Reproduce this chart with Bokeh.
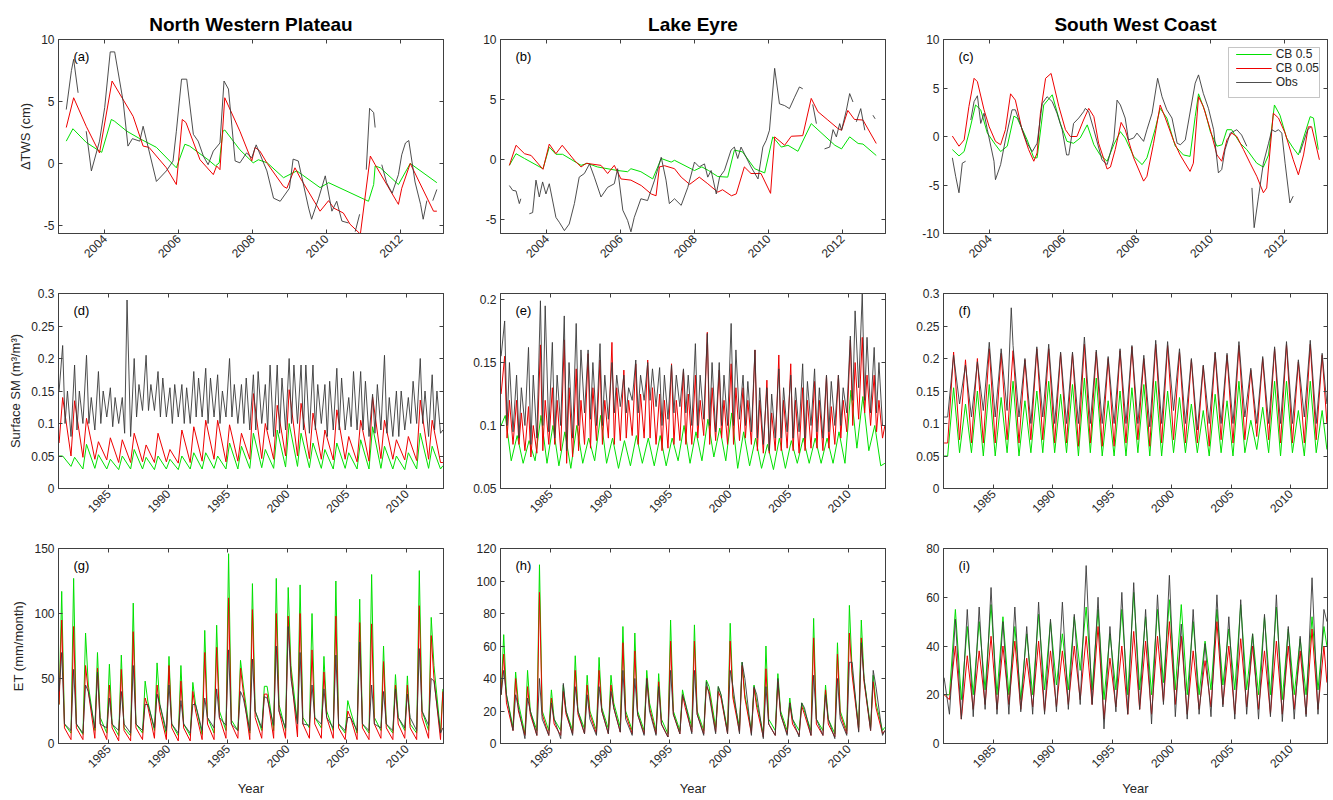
import math
from bokeh.plotting import figure
from bokeh.layouts import column, row
from bokeh.models import (Range1d, FixedTicker, LinearAxis, Label, CustomJSTickFormatter,
                          Legend, LegendItem, BoxAnnotation)
from bokeh.embed import file_html
from bokeh.resources import INLINE

nan = float("nan")
years = list(range(1981, 2013))

col_titles = ["North Western Plateau", "Lake Eyre", "South West Coast"]
row_ylabels = ["\u0394TWS (cm)", "Surface SM (m\u00b3/m\u00b3)", "ET (mm/month)"]
panel_tags = [["(a)", "(b)", "(c)"], ["(d)", "(e)", "(f)"], ["(g)", "(h)", "(i)"]]
series_names = ["CB 0.5", "CB 0.05", "Obs"]
tws_xticks = [2004, 2006, 2008, 2010, 2012]
long_xticks = [1985, 1990, 1995, 2000, 2005, 2010]

# ---------------- Row 1: delta TWS (cm), decimal year / value pairs ----------------
a_cb05_t = [2002.96, 2003.14, 2003.5, 2003.86, 2003.92, 2004.18, 2004.27, 2004.6, 2004.95, 2005.4, 2005.94, 2006.17, 2006.3, 2006.8, 2007.0, 2007.1, 2007.2, 2007.25, 2007.66, 2008.02, 2008.16, 2008.4, 2008.84, 2009.2, 2009.83, 2010.06, 2011.14, 2011.28, 2011.32, 2011.46, 2011.95, 2012.27, 2012.99]
a_cb05_v = [1.8, 2.8, 1.7, 1.0, 0.9, 3.55, 3.4, 2.6, 2.0, 1.3, -0.35, 1.55, 1.4, 0.3, -0.2, 0.05, 2.6, 2.7, 1.1, 0.05, 0.3, 0.05, -1.15, -0.6, -1.95, -1.55, -3.05, -1.7, -0.2, -0.35, -1.7, 0.0, -1.55]
a_cb005_t = [2002.96, 2003.16, 2003.5, 2003.86, 2004.2, 2004.77, 2005.04, 2005.2, 2005.67, 2005.94, 2006.1, 2006.2, 2006.58, 2006.94, 2007.03, 2007.12, 2007.25, 2007.66, 2007.98, 2008.07, 2008.2, 2008.4, 2008.84, 2008.93, 2009.15, 2009.29, 2009.83, 2010.06, 2010.2, 2010.46, 2010.64, 2010.92, 2011.19, 2011.32, 2011.9, 2011.95, 2012.04, 2012.27, 2012.9, 2012.99]
a_cb005_v = [2.9, 5.3, 3.0, 0.85, 6.65, 3.8, 1.4, 1.3, -0.35, -1.7, 3.55, 3.3, 0.3, -0.9, -0.2, -0.5, 5.3, 2.6, 0.2, 1.3, 1.0, 0.0, -1.85, -2.0, -0.35, -1.15, -3.85, -3.0, -3.6, -4.0, -4.9, -5.7, 0.6, -0.1, -3.05, -3.3, -2.0, 0.0, -3.85, -3.85]
a_obs_t = [2002.96, 2003.1, 2003.16, 2003.28, nan, 2003.5, 2003.64, 2003.86, 2004.0, 2004.15, 2004.27, 2004.5, 2004.63, 2004.75, 2004.95, 2005.04, 2005.4, 2005.67, 2005.85, 2005.94, 2006.08, 2006.22, 2006.4, 2006.53, 2006.67, 2006.8, 2006.94, 2007.12, 2007.23, 2007.35, 2007.53, 2007.66, 2007.84, 2007.98, 2008.1, 2008.39, 2008.57, 2008.75, 2009.0, 2009.1, 2009.24, 2009.52, 2009.6, 2009.79, 2009.97, 2010.15, 2010.28, 2010.42, 2010.6, nan, 2010.78, 2010.9, nan, 2011.08, 2011.17, 2011.28, 2011.32, nan, 2011.5, 2011.63, 2011.78, 2011.95, 2012.04, 2012.14, 2012.23, 2012.4, 2012.55, 2012.62, 2012.72, nan, 2012.88, 2012.99]
a_obs_v = [4.35, 7.5, 8.4, 5.7, nan, 2.6, -0.6, 1.8, 4.5, 9.0, 9.0, 5.0, 1.4, 2.0, 1.8, 3.0, -1.45, -0.6, 0.2, 2.6, 6.8, 6.8, 2.35, 1.8, 0.6, -0.1, 1.0, 1.65, 6.65, 6.0, 0.2, 0.05, 0.85, 0.45, 1.5, -0.6, -2.8, -3.05, -2.0, 0.35, 0.2, -3.6, -4.5, -2.8, -1.0, -3.85, -3.05, -4.65, -4.8, nan, -5.5, -4.1, nan, -0.5, 4.45, 4.1, 2.9, nan, -0.1, -1.55, -2.4, -0.9, 0.7, 1.65, 1.85, -1.5, -3.3, -4.5, -3.0, nan, -3.0, -2.1]

b_cb05_t = [2002.99, 2003.17, 2003.4, 2003.9, 2004.07, 2004.25, 2004.43, 2004.93, 2005.1, 2005.37, 2005.92, 2006.19, 2006.28, 2006.55, 2006.87, 2007.1, 2007.37, 2007.46, 2008.0, 2008.2, 2008.38, 2008.63, 2008.9, 2009.08, 2009.3, 2009.63, 2009.9, 2010.12, 2010.35, 2010.53, 2010.8, 2011.16, 2011.8, 2011.98, 2012.2, 2012.43, 2012.56, 2012.92]
b_cb05_v = [-0.47, 0.5, 0.1, -0.75, 1.05, 0.45, 0.45, -0.47, -0.3, -0.6, -0.9, -1.0, -0.75, -1.0, -1.6, 0.1, -0.2, -0.05, -0.9, -0.6, -0.9, -1.4, -1.45, 0.8, 0.65, -0.75, -1.1, 1.9, 1.05, 1.2, 0.7, 3.0, 1.2, 0.9, 1.9, 1.35, 1.3, 0.35]
b_cb005_t = [2002.99, 2003.17, 2003.4, 2003.58, 2003.9, 2004.07, 2004.25, 2004.42, 2004.75, 2004.93, 2005.07, 2005.47, 2005.65, 2005.83, 2006.01, 2006.28, 2006.56, 2006.83, 2006.96, 2007.05, 2007.19, 2007.46, 2007.64, 2007.87, 2008.13, 2008.36, 2008.63, 2008.76, 2009.0, 2009.13, 2009.35, 2009.53, 2009.8, 2010.06, 2010.17, 2010.44, 2010.62, 2010.93, 2011.16, 2011.34, 2011.61, 2011.88, 2011.98, 2012.15, 2012.33, 2012.56, 2012.92]
b_cb005_v = [-0.47, 1.2, 0.5, 0.35, -0.8, 1.3, 0.5, 1.2, -0.05, -0.6, -0.3, -0.47, -1.15, -0.47, -1.6, -1.7, -2.15, -2.85, -3.0, -0.6, -0.5, -0.75, -1.45, -2.05, -1.45, -2.0, -2.7, -2.5, -3.0, -2.85, -0.6, -1.15, -1.15, -2.8, 1.9, 1.2, 1.95, 2.0, 5.1, 4.0, 3.3, 2.6, 2.45, 4.1, 3.35, 3.3, 1.35]
b_obs_t = [2002.99, 2003.08, 2003.17, 2003.26, 2003.3, nan, 2003.53, 2003.62, 2003.71, 2003.8, 2003.89, 2003.98, 2004.07, 2004.25, 2004.34, 2004.48, 2004.61, 2004.75, 2004.88, 2005.02, 2005.16, 2005.29, 2005.47, 2005.65, 2005.83, 2005.92, 2006.06, 2006.19, 2006.28, 2006.37, 2006.55, 2006.73, 2006.92, 2007.1, 2007.23, 2007.32, 2007.46, 2007.64, 2007.82, 2008.0, 2008.13, 2008.27, 2008.36, 2008.45, 2008.59, 2008.68, 2008.81, 2008.99, 2009.08, 2009.17, 2009.26, 2009.53, 2009.72, 2009.85, 2009.94, 2010.03, 2010.17, 2010.3, 2010.44, 2010.57, 2010.71, 2010.84, 2010.93, nan, 2011.2, 2011.3, nan, 2011.52, 2011.66, 2011.75, 2011.84, 2011.93, 2011.98, 2012.11, 2012.2, 2012.29, nan, 2012.38, 2012.5, 2012.61, nan, 2012.83, 2012.89]
b_obs_v = [-2.15, -2.55, -2.6, -3.65, -3.25, nan, -4.5, -4.4, -1.7, -3.1, -1.85, -2.85, -2.0, -4.8, -5.2, -5.9, -5.35, -3.65, -1.45, -1.15, -0.35, -1.45, -3.1, -2.3, -2.0, -0.75, -4.2, -5.05, -6.0, -4.8, -3.25, -3.4, -1.7, 0.2, -1.7, -3.65, -3.25, -3.8, -2.3, -0.2, -0.6, -0.35, -1.45, -0.9, -2.85, -1.45, -0.9, 0.8, 1.05, 0.1, 1.05, -0.6, -1.6, 1.05, 1.6, 2.45, 7.6, 4.65, 4.5, 4.25, 5.2, 6.05, 5.9, nan, 4.6, 3.0, nan, 0.9, 1.05, 2.5, 1.9, 3.0, 2.45, 4.1, 5.5, 4.8, nan, 3.15, 4.25, 2.45, nan, 3.7, 3.4]

c_cb05_t = [2002.99, 2003.17, 2003.31, 2003.44, 2003.62, 2003.76, 2003.94, 2004.16, 2004.3, 2004.48, 2004.66, 2004.75, 2005.02, 2005.2, 2005.29, 2005.47, 2005.7, 2005.92, 2006.1, 2006.28, 2006.46, 2006.65, 2006.83, 2007.0, 2007.19, 2007.37, 2007.55, 2007.68, 2007.91, 2008.14, 2008.27, 2008.5, 2008.63, 2008.81, 2009.04, 2009.26, 2009.44, 2009.58, 2009.67, 2009.85, 2009.99, 2010.17, 2010.31, 2010.44, 2010.57, 2010.8, 2010.98, 2011.25, 2011.43, 2011.57, 2011.73, 2011.88, 2012.06, 2012.24, 2012.38, 2012.56, 2012.7, 2012.79, 2012.92]
c_cb05_v = [-1.35, -2.0, -1.55, 0.35, 3.25, 2.75, 0.35, -0.85, -1.55, -1.0, 2.1, 1.9, -0.35, -2.2, -2.2, 3.25, 4.3, 1.35, -0.5, -0.7, -0.15, 1.2, -0.85, -1.9, -2.55, -0.85, 0.5, -0.15, -2.05, -2.9, -2.2, 0.85, 2.9, 1.9, -1.0, -1.9, -2.05, 2.05, 4.4, 2.55, 0.5, -1.0, -0.85, 0.7, 0.7, -0.7, -1.35, -2.75, -3.15, -1.9, 3.25, 2.2, -0.15, -1.2, -1.9, 0.35, 2.05, 1.9, -1.35]
c_cb005_t = [2002.99, 2003.17, 2003.31, 2003.44, 2003.58, 2003.67, 2003.85, 2003.99, 2004.16, 2004.3, 2004.43, 2004.57, 2004.7, 2004.88, 2005.06, 2005.2, 2005.29, 2005.38, 2005.52, 2005.67, 2005.88, 2006.06, 2006.19, 2006.37, 2006.55, 2006.69, 2006.83, 2006.96, 2007.19, 2007.28, 2007.41, 2007.57, 2007.68, 2007.91, 2008.18, 2008.27, 2008.45, 2008.63, 2008.77, 2009.0, 2009.17, 2009.44, 2009.53, 2009.67, 2009.8, 2009.99, 2010.17, 2010.3, 2010.44, 2010.57, 2010.71, 2010.89, 2011.07, 2011.25, 2011.43, 2011.52, 2011.7, 2011.84, 2012.02, 2012.24, 2012.38, 2012.52, 2012.65, 2012.74, 2012.95]
c_cb005_v = [0.05, -1.0, -0.35, 3.1, 6.0, 5.65, 2.75, 1.0, -0.5, -0.85, 0.7, 4.4, 3.75, 0.7, -1.35, -2.55, -1.7, 2.4, 6.0, 6.5, 3.1, 0.7, 0.0, 0.0, 1.7, 2.9, 2.05, -0.7, -3.35, -3.15, -1.35, 1.45, 0.7, -2.2, -4.6, -4.1, -0.7, 3.25, 1.9, -0.5, -1.9, -3.6, -2.75, 4.1, 3.1, 0.7, -1.9, -2.55, -0.35, 0.35, 0.0, -1.35, -2.75, -4.1, -5.8, -5.3, 2.4, 1.9, 0.35, -2.4, -3.95, -1.9, 1.0, 1.0, -2.4]
c_obs_t = [2002.99, 2003.08, 2003.17, 2003.26, 2003.35, nan, 2003.49, 2003.58, 2003.67, 2003.76, 2003.85, 2003.94, 2004.12, 2004.16, 2004.3, 2004.43, 2004.61, 2004.7, 2004.84, 2005.02, 2005.16, 2005.29, 2005.43, 2005.56, 2005.7, 2005.83, 2005.97, 2006.09, 2006.15, 2006.28, 2006.42, 2006.55, 2006.6, 2006.69, 2006.83, 2007.05, 2007.19, 2007.37, 2007.46, 2007.55, 2007.68, 2007.77, 2007.91, 2008.0, 2008.18, 2008.27, 2008.41, 2008.56, 2008.68, 2008.81, 2008.95, 2009.09, 2009.18, 2009.31, 2009.58, 2009.67, 2009.8, 2009.94, 2010.08, 2010.21, 2010.3, 2010.39, 2010.53, 2010.71, 2010.84, 2010.98, nan, 2011.12, 2011.18, 2011.3, 2011.43, 2011.57, 2011.66, 2011.75, 2011.84, 2011.93, 2012.02, 2012.15, 2012.24, nan, 2012.42, 2012.63, 2012.72]
c_obs_v = [-2.2, -4.1, -5.8, -2.75, -2.55, nan, 1.7, 3.6, 4.2, 1.35, 2.4, 0.7, -2.55, -4.45, -2.9, -0.35, 2.75, 2.75, 1.2, -0.7, -1.55, -0.7, 3.4, 4.1, 3.6, 2.4, 0.7, -1.9, -1.9, 1.35, 1.9, 2.55, 2.9, 2.55, 0.7, -2.4, -2.9, -0.35, 3.75, 3.25, 1.9, -0.35, -0.15, 0.35, -0.5, 0.7, 2.4, 6.0, 4.1, 2.75, 1.9, -0.7, -0.85, -0.35, 5.5, 6.35, 4.45, 2.9, 0.7, -3.75, -3.4, -1.35, 0.35, 0.7, 0.15, -1.0, nan, -5.3, -9.4, -6.15, -2.75, -0.7, 0.7, 0.5, 0.7, 0.35, -2.75, -6.85, -6.15, nan, -1.7, 0.7, 1.0]

# ---------------- Rows 2-3: first and last monthly readings (CB 0.5, CB 0.05, Obs) ----------------
start_t = 1980.85
end_t = 2013.05
d_start, d_end = [0.05, 0.07, 0.15], [0.035, 0.04, 0.09]
e_start, e_end = [0.10, 0.125, 0.155], [0.07, 0.10, 0.10]
f_start, f_end = [0.05, 0.07, 0.11], [0.06, 0.10, 0.13]
g_start, g_end = [30, 30, 40], [42, 40, 12]
h_start, h_end = [30, 30, 30], [10, 8, 8]
i_start, i_end = [20, 20, 27], [40, 25, 50]

# ---------------- Row 2: surface soil moisture (m3/m3), yearly readings 1981-2012 ----------------
d_cb05_hi = [0.050, 0.048, 0.068, 0.052, 0.045, 0.050, 0.060, 0.048, 0.050, 0.045, 0.050, 0.055, 0.055, 0.050, 0.070, 0.065,
             0.085, 0.060, 0.090, 0.100, 0.085, 0.070, 0.060, 0.070, 0.055, 0.075, 0.095, 0.065, 0.050, 0.055, 0.085, 0.065]
d_cb05_lo = [0.034, 0.030, 0.031, 0.030, 0.029, 0.030, 0.030, 0.029, 0.030, 0.029, 0.030, 0.030, 0.031, 0.030, 0.030, 0.031,
             0.032, 0.031, 0.033, 0.034, 0.032, 0.031, 0.030, 0.031, 0.030, 0.030, 0.031, 0.030, 0.029, 0.030, 0.031, 0.030]
d_cb005_hi = [0.140, 0.135, 0.108, 0.072, 0.078, 0.075, 0.085, 0.067, 0.085, 0.060, 0.090, 0.095, 0.105, 0.105, 0.098, 0.085,
              0.146, 0.100, 0.128, 0.152, 0.131, 0.116, 0.090, 0.121, 0.080, 0.105, 0.141, 0.105, 0.075, 0.080, 0.136, 0.105]
d_cb005_lo = [0.050, 0.048, 0.045, 0.044, 0.040, 0.040, 0.041, 0.040, 0.041, 0.039, 0.040, 0.042, 0.045, 0.041, 0.042, 0.045,
              0.046, 0.045, 0.050, 0.050, 0.046, 0.045, 0.044, 0.045, 0.041, 0.042, 0.046, 0.045, 0.044, 0.043, 0.045, 0.040]
d_obs_hi = [0.220, 0.190, 0.205, 0.180, 0.155, 0.140, 0.200, 0.205, 0.180, 0.155, 0.160, 0.180, 0.185, 0.175, 0.200, 0.160,
            0.175, 0.160, 0.190, 0.200, 0.190, 0.190, 0.160, 0.185, 0.140, 0.180, 0.145, 0.205, 0.150, 0.140, 0.200, 0.175]
d_obs_lo = [0.100, 0.090, 0.100, 0.100, 0.095, 0.085, 0.110, 0.120, 0.110, 0.100, 0.100, 0.110, 0.100, 0.100, 0.110, 0.100,
            0.090, 0.090, 0.085, 0.100, 0.090, 0.090, 0.080, 0.090, 0.095, 0.090, 0.085, 0.085, 0.080, 0.100, 0.100, 0.090]
d_obs_hi2 = [0.150, 0.150, 0.140, 0.150, 0.140, 0.290, 0.160, 0.160, 0.170, 0.160, 0.155, 0.170, 0.170, 0.150, 0.160, 0.170,
             0.180, 0.190, 0.170, 0.190, 0.190, 0.160, 0.165, 0.170, 0.180, 0.165, 0.160, 0.140, 0.150, 0.165, 0.150, 0.150]
d_obs_lo2 = [0.080, 0.100, 0.090, 0.110, 0.100, 0.080, 0.120, 0.120, 0.110, 0.110, 0.100, 0.110, 0.110, 0.110, 0.100, 0.090,
             0.100, 0.080, 0.090, 0.100, 0.085, 0.100, 0.090, 0.090, 0.090, 0.080, 0.090, 0.080, 0.090, 0.100, 0.080, 0.085]

e_cb05_hi = [0.108, 0.092, 0.088, 0.108, 0.100, 0.095, 0.100, 0.090, 0.108, 0.090, 0.088, 0.092, 0.090, 0.092, 0.090, 0.100,
             0.095, 0.105, 0.098, 0.110, 0.095, 0.090, 0.085, 0.090, 0.088, 0.090, 0.090, 0.090, 0.095, 0.128, 0.123, 0.100]
e_cb05_lo = [0.072, 0.070, 0.072, 0.070, 0.068, 0.066, 0.070, 0.072, 0.070, 0.066, 0.068, 0.070, 0.068, 0.068, 0.072, 0.070,
             0.072, 0.075, 0.072, 0.066, 0.068, 0.066, 0.065, 0.066, 0.070, 0.070, 0.070, 0.070, 0.070, 0.082, 0.080, 0.068]
e_cb005_hi = [0.155, 0.120, 0.115, 0.164, 0.130, 0.168, 0.145, 0.157, 0.152, 0.166, 0.144, 0.149, 0.152, 0.125, 0.149, 0.144,
              0.140, 0.174, 0.144, 0.149, 0.130, 0.160, 0.136, 0.156, 0.149, 0.130, 0.135, 0.140, 0.140, 0.168, 0.170, 0.140]
e_cb005_lo = [0.090, 0.085, 0.075, 0.080, 0.085, 0.070, 0.080, 0.082, 0.085, 0.085, 0.090, 0.085, 0.090, 0.080, 0.085, 0.085,
              0.090, 0.085, 0.090, 0.085, 0.090, 0.080, 0.078, 0.080, 0.080, 0.080, 0.082, 0.082, 0.090, 0.100, 0.110, 0.095]
e_cb005_hi2 = [0.120, 0.110, 0.100, 0.120, 0.120, 0.130, 0.120, 0.130, 0.120, 0.130, 0.120, 0.125, 0.130, 0.120, 0.120, 0.125,
               0.120, 0.130, 0.120, 0.130, 0.120, 0.120, 0.110, 0.120, 0.120, 0.120, 0.120, 0.115, 0.120, 0.150, 0.140, 0.120]
e_cb005_lo2 = [0.085, 0.080, 0.078, 0.085, 0.080, 0.075, 0.085, 0.088, 0.090, 0.088, 0.092, 0.090, 0.085, 0.082, 0.088, 0.085,
               0.092, 0.088, 0.085, 0.088, 0.085, 0.078, 0.080, 0.082, 0.078, 0.082, 0.080, 0.085, 0.095, 0.105, 0.100, 0.090]
e_obs_hi = [0.183, 0.140, 0.162, 0.199, 0.166, 0.187, 0.181, 0.160, 0.165, 0.150, 0.140, 0.152, 0.150, 0.146, 0.148, 0.145,
            0.165, 0.173, 0.150, 0.181, 0.140, 0.160, 0.130, 0.145, 0.140, 0.149, 0.145, 0.140, 0.140, 0.171, 0.205, 0.162]
e_obs_lo = [0.100, 0.090, 0.085, 0.100, 0.090, 0.080, 0.100, 0.105, 0.100, 0.110, 0.110, 0.110, 0.120, 0.100, 0.110, 0.110,
            0.100, 0.100, 0.100, 0.100, 0.100, 0.090, 0.080, 0.090, 0.090, 0.090, 0.095, 0.095, 0.100, 0.120, 0.120, 0.110]
e_obs_hi2 = [0.150, 0.130, 0.140, 0.195, 0.140, 0.150, 0.160, 0.150, 0.140, 0.140, 0.130, 0.140, 0.145, 0.140, 0.140, 0.140,
             0.140, 0.150, 0.140, 0.160, 0.135, 0.130, 0.125, 0.130, 0.130, 0.135, 0.130, 0.135, 0.130, 0.191, 0.170, 0.150]
e_obs_lo2 = [0.095, 0.100, 0.090, 0.095, 0.100, 0.090, 0.110, 0.100, 0.105, 0.115, 0.120, 0.120, 0.115, 0.105, 0.115, 0.100,
             0.105, 0.095, 0.100, 0.105, 0.095, 0.085, 0.090, 0.095, 0.095, 0.100, 0.090, 0.100, 0.110, 0.130, 0.110, 0.100]

f_cb05_hi = [0.155, 0.130, 0.150, 0.160, 0.140, 0.165, 0.135, 0.150, 0.165, 0.145, 0.160, 0.170, 0.170, 0.135, 0.150, 0.155,
             0.160, 0.165, 0.150, 0.140, 0.130, 0.120, 0.145, 0.135, 0.165, 0.105, 0.125, 0.165, 0.165, 0.120, 0.165, 0.120]
f_cb05_lo = [0.050, 0.055, 0.055, 0.050, 0.050, 0.055, 0.050, 0.055, 0.055, 0.055, 0.055, 0.050, 0.055, 0.050, 0.050, 0.050,
             0.055, 0.050, 0.050, 0.055, 0.055, 0.055, 0.050, 0.055, 0.050, 0.055, 0.060, 0.055, 0.050, 0.055, 0.050, 0.055]
f_cb005_hi = [0.210, 0.198, 0.200, 0.215, 0.208, 0.212, 0.198, 0.215, 0.215, 0.208, 0.208, 0.222, 0.210, 0.200, 0.212, 0.218,
              0.200, 0.222, 0.220, 0.210, 0.198, 0.188, 0.208, 0.205, 0.220, 0.182, 0.200, 0.215, 0.222, 0.195, 0.222, 0.205]
f_cb005_lo = [0.070, 0.075, 0.070, 0.070, 0.070, 0.075, 0.070, 0.075, 0.075, 0.070, 0.070, 0.065, 0.070, 0.065, 0.065, 0.070,
              0.075, 0.065, 0.070, 0.075, 0.070, 0.070, 0.065, 0.075, 0.070, 0.075, 0.080, 0.075, 0.070, 0.070, 0.070, 0.075]
f_obs_hi = [0.205, 0.190, 0.195, 0.225, 0.215, 0.220, 0.200, 0.218, 0.222, 0.210, 0.210, 0.233, 0.213, 0.203, 0.215, 0.220,
            0.205, 0.228, 0.226, 0.215, 0.200, 0.190, 0.210, 0.208, 0.226, 0.185, 0.203, 0.218, 0.226, 0.198, 0.228, 0.208]
f_obs_lo = [0.110, 0.130, 0.110, 0.120, 0.110, 0.120, 0.110, 0.100, 0.110, 0.100, 0.100, 0.100, 0.100, 0.100, 0.100, 0.100,
            0.100, 0.095, 0.100, 0.120, 0.100, 0.090, 0.100, 0.100, 0.100, 0.110, 0.100, 0.100, 0.100, 0.100, 0.110, 0.100]
f_obs_spike_t = [1986.5]
f_obs_spike_v = [0.278]

# ---------------- Row 3: ET (mm/month), yearly readings 1981-2012 ----------------
g_cb05_hi = [117, 127, 85, 70, 61, 68, 108, 48, 62, 67, 60, 47, 87, 91, 146, 64, 123, 44, 127, 120, 122, 100, 67, 125, 33, 111, 130, 75, 53, 52, 133, 97]
g_cb005_hi = [95, 90, 60, 58, 45, 57, 86, 35, 45, 60, 48, 40, 70, 74, 112, 58, 103, 38, 100, 98, 100, 72, 55, 98, 25, 93, 92, 63, 45, 45, 106, 83]
g_obs_hi = [70, 57, 45, 55, 35, 40, 60, 30, 38, 45, 33, 30, 35, 42, 72, 40, 65, 36, 75, 90, 70, 45, 42, 68, 20, 78, 45, 40, 42, 38, 73, 50]
g_cb05_mid = [15, 15, 45, 20, 15, 12, 15, 32, 30, 15, 15, 30, 20, 25, 18, 45, 25, 44, 30, 60, 20, 20, 25, 15, 25, 15, 20, 15, 20, 15, 25, 60]
g_cb005_mid = [12, 12, 40, 15, 12, 10, 12, 28, 25, 12, 12, 25, 15, 20, 15, 40, 20, 38, 25, 55, 15, 15, 20, 12, 20, 12, 15, 12, 15, 12, 20, 50]
g_obs_mid = [15, 15, 40, 15, 15, 15, 15, 30, 30, 15, 15, 30, 20, 20, 15, 35, 25, 35, 25, 50, 15, 20, 20, 15, 20, 15, 15, 15, 20, 20, 25, 48]
g_cb05_lo = [8, 7, 10, 8, 6, 6, 8, 10, 7, 6, 6, 7, 8, 10, 10, 8, 10, 10, 10, 15, 12, 12, 10, 8, 8, 8, 10, 8, 10, 8, 10, 8]
g_cb005_lo = [3, 3, 4, 3, 2, 2, 3, 4, 3, 2, 2, 3, 3, 4, 4, 3, 4, 4, 4, 5, 4, 4, 4, 3, 3, 3, 4, 3, 4, 3, 4, 3]
g_obs_lo = [10, 8, 12, 12, 10, 8, 10, 12, 10, 8, 8, 10, 12, 14, 10, 10, 12, 14, 12, 15, 14, 15, 12, 10, 10, 10, 12, 10, 12, 10, 14, 8]

h_cb05_hi = [67, 44, 45, 110, 33, 36, 54, 42, 53, 42, 72, 68, 45, 43, 76, 33, 73, 39, 35, 74, 50, 36, 60, 43, 28, 25, 77, 36, 62, 85, 76, 42]
h_cb005_hi = [55, 40, 35, 93, 28, 32, 45, 36, 45, 36, 62, 57, 40, 38, 63, 30, 63, 35, 32, 63, 48, 34, 46, 38, 25, 23, 65, 33, 55, 68, 65, 38]
h_obs_hi = [45, 30, 28, 40, 25, 37, 35, 30, 35, 32, 45, 40, 40, 35, 45, 30, 45, 38, 35, 45, 50, 35, 35, 40, 25, 25, 42, 30, 40, 50, 62, 45]
h_cb05_mid = [30, 25, 20, 20, 15, 20, 20, 20, 22, 25, 20, 20, 25, 15, 20, 25, 20, 35, 30, 30, 30, 25, 15, 20, 15, 20, 15, 15, 20, 45, 40, 25]
h_cb005_mid = [25, 20, 18, 18, 12, 18, 18, 18, 20, 22, 18, 18, 22, 12, 18, 22, 18, 32, 28, 28, 28, 22, 12, 18, 12, 18, 12, 12, 18, 42, 38, 22]
h_obs_mid = [30, 22, 20, 15, 15, 20, 20, 15, 20, 22, 15, 18, 20, 12, 18, 25, 18, 30, 30, 35, 40, 30, 12, 18, 15, 22, 15, 15, 15, 50, 40, 35]
h_cb05_lo = [10, 6, 8, 8, 8, 8, 9, 8, 9, 10, 8, 8, 8, 6, 8, 10, 8, 10, 8, 10, 8, 6, 8, 8, 8, 8, 8, 6, 8, 10, 10, 8]
h_cb005_lo = [8, 5, 5, 5, 5, 6, 6, 6, 6, 7, 6, 6, 6, 4, 6, 7, 6, 7, 6, 7, 6, 4, 5, 6, 5, 5, 5, 4, 6, 8, 8, 6]
h_obs_lo = [8, 3, 5, 5, 3, 5, 6, 5, 6, 7, 5, 5, 5, 4, 6, 6, 5, 6, 6, 6, 5, 3, 5, 5, 4, 5, 5, 3, 5, 7, 8, 5]

i_cb05_hi = [55, 48, 50, 57, 52, 48, 45, 53, 50, 45, 52, 56, 55, 45, 55, 62, 52, 55, 59, 57, 50, 42, 55, 47, 57, 45, 52, 56, 47, 43, 52, 48]
i_cb05_lo = [20, 18, 20, 22, 20, 20, 18, 20, 22, 24, 22, 30, 22, 18, 22, 20, 22, 20, 25, 22, 20, 20, 22, 24, 22, 22, 20, 20, 18, 20, 20, 22]
i_cb005_hi = [40, 36, 38, 44, 40, 42, 35, 42, 38, 38, 40, 44, 48, 35, 40, 46, 42, 44, 50, 44, 38, 34, 50, 40, 43, 40, 38, 42, 40, 38, 47, 40]
i_cb005_lo = [18, 10, 14, 16, 14, 16, 14, 15, 13, 15, 16, 18, 16, 10, 15, 12, 14, 12, 17, 16, 12, 14, 15, 16, 12, 15, 14, 12, 12, 14, 12, 14]
i_obs_hi = [51, 55, 56, 64, 50, 56, 48, 58, 51, 58, 53, 73, 60, 48, 62, 66, 55, 61, 69, 49, 55, 41, 61, 52, 59, 45, 53, 61, 48, 44, 68, 55]
i_obs_lo = [12, 10, 11, 14, 12, 12, 13, 12, 12, 13, 14, 16, 16, 6, 13, 12, 14, 8, 16, 11, 10, 12, 11, 15, 10, 12, 10, 11, 9, 10, 11, 12]

# ---------------- helpers ----------------
def seasonal(phases, *arrays):
    xs, ys = [], []
    for i, yr in enumerate(years):
        for ph, arr in zip(phases, arrays):
            assert len(arr) == len(years)
            xs.append(yr + ph)
            ys.append(arr[i])
    return xs, ys

def ends(series, v0, v1):
    xs, ys = series
    return [start_t] + xs + [end_t], [v0] + ys + [v1]

def trio(start, end, s0, s1, s2):
    return [ends(s0, start[0], end[0]), ends(s1, start[1], end[1]), ends(s2, start[2], end[2])]

def merge(xs, ys, ex_t, ex_v):
    pts = sorted(list(zip(xs, ys)) + list(zip(ex_t, ex_v)))
    return [p[0] for p in pts], [p[1] for p in pts]

FONT = "Liberation Sans"
AXC = "#404040"
TXC = "#262626"
COLORS = ["#00e000", "#ee0000", "#3a3a3a"]
WIDTHS = [1.0, 1.0, 0.9]

FW = [385, 385, 384]
BL = [58, 50, 50]
BR = [7, 8, 5]
FH = [194, 195, 195]
BT = [39, 20, 20]
BB = [40, 40, 55]

def tick_fmt():
    return CustomJSTickFormatter(code="return String(Math.round(tick*1000)/1000);")

def blank_fmt():
    return CustomJSTickFormatter(code="return '';")

def style_axis(ax, ticks, labels=True):
    ax.ticker = FixedTicker(ticks=ticks)
    ax.axis_line_color = AXC
    ax.major_tick_line_color = AXC
    ax.major_tick_in = 4
    ax.major_tick_out = 0
    ax.minor_tick_line_color = None
    if labels:
        ax.formatter = tick_fmt()
        ax.major_label_text_font = FONT
        ax.major_label_text_font_size = "12px"
        ax.major_label_text_color = TXC
    else:
        ax.formatter = blank_fmt()
        ax.major_label_text_font_size = "0px"
        ax.major_label_standoff = 0

def panel(r, c, xr, yr, xticks, yticks, series):
    p = figure(width=BL[c] + FW[c] + BR[c], height=BT[r] + FH[r] + BB[r],
               x_range=Range1d(*xr), y_range=Range1d(*yr),
               output_backend="svg", toolbar_location=None,
               min_border_left=BL[c], min_border_right=BR[c],
               min_border_top=BT[r], min_border_bottom=BB[r])
    bx = p.below[0]
    ly = p.left[0]
    p.xgrid.visible = False
    p.ygrid.visible = False
    p.outline_line_color = AXC
    p.background_fill_color = "white"
    p.border_fill_color = "white"
    style_axis(bx, xticks)
    style_axis(ly, yticks)
    bx.major_label_orientation = math.pi / 4
    bx.major_label_standoff = 3
    ly.major_label_standoff = 4
    top = LinearAxis()
    style_axis(top, xticks, labels=False)
    p.add_layout(top, "above")
    right = LinearAxis()
    style_axis(right, yticks, labels=False)
    p.add_layout(right, "right")
    if r == 0:
        p.title.text = col_titles[c]
        p.title.align = "center"
        p.title.text_font = FONT
        p.title.text_font_size = "19px"
        p.title.text_font_style = "bold"
        p.title.text_color = "#000000"
        p.title.standoff = 10
    if c == 0:
        ly.axis_label = row_ylabels[r]
        ly.axis_label_text_font = FONT
        ly.axis_label_text_font_size = "13px"
        ly.axis_label_text_font_style = "normal"
        ly.axis_label_text_color = TXC
        ly.axis_label_standoff = 5
    if r == 2:
        bx.axis_label = "Year"
        bx.axis_label_text_font = FONT
        bx.axis_label_text_font_size = "13px"
        bx.axis_label_text_font_style = "normal"
        bx.axis_label_text_color = TXC
        bx.axis_label_standoff = 6
    rends = []
    for k, (xs, ys) in enumerate(series):
        rends.append(p.line(xs, ys, line_color=COLORS[k], line_width=WIDTHS[k]))
    x0, x1 = xr
    y0, y1 = yr
    p.add_layout(Label(x=x0 + (x1 - x0) * 15 / FW[c], y=y1 - (y1 - y0) * 9 / FH[r],
                       text=panel_tags[r][c], text_baseline="top", text_align="left",
                       text_font=FONT, text_font_size="13px", text_color="#000000"))
    if r == 0 and c == 2:
        # frame of the legend box (decoration), sized to the legend below
        lw, lh, m = 91, 50, 8
        box = BoxAnnotation(left=x1 - (x1 - x0) * (m + lw) / FW[c], right=x1 - (x1 - x0) * m / FW[c],
                            top=y1 - (y1 - y0) * m / FH[r], bottom=y1 - (y1 - y0) * (m + lh) / FH[r],
                            fill_color="white", fill_alpha=1.0, line_color=AXC, line_width=1, level="annotation")
        p.add_layout(box)
        lg = Legend(items=[LegendItem(label=series_names[k], renderers=[rends[k]]) for k in range(3)],
                    location="top_right", margin=m, padding=4, spacing=0,
                    glyph_width=36, glyph_height=14, label_height=14, label_standoff=4,
                    label_text_font=FONT, label_text_font_size="12px", label_text_color=TXC,
                    border_line_color=None, background_fill_alpha=0.0)
        p.add_layout(lg, "center")
    return p

TX = (2002.75, 2013.17)
LX = (1980.8, 2013.1)

# phases within each year (fraction of year) at which the yearly readings were taken
ph2_wet = [0.15, 0.85]
ph4 = [0.15, 0.35, 0.55, 0.85]
ph_et = [0.07, 0.3, 0.85]

pa = panel(0, 0, TX, (-5.65, 10), tws_xticks, [-5, 0, 5, 10],
           [(a_cb05_t, a_cb05_v), (a_cb005_t, a_cb005_v), (a_obs_t, a_obs_v)])
pb = panel(0, 1, TX, (-6.14, 10), tws_xticks, [-5, 0, 5, 10],
           [(b_cb05_t, b_cb05_v), (b_cb005_t, b_cb005_v), (b_obs_t, b_obs_v)])
pc = panel(0, 2, TX, (-10, 10), tws_xticks, [-10, -5, 0, 5, 10],
           [(c_cb05_t, c_cb05_v), (c_cb005_t, c_cb005_v), (c_obs_t, c_obs_v)])

pd = panel(1, 0, LX, (0, 0.3), long_xticks, [0, 0.05, 0.1, 0.15, 0.2, 0.25, 0.3],
           trio(d_start, d_end,
                seasonal(ph2_wet, d_cb05_hi, d_cb05_lo),
                seasonal(ph2_wet, d_cb005_hi, d_cb005_lo),
                seasonal(ph4, d_obs_hi, d_obs_lo, d_obs_hi2, d_obs_lo2)))
pe = panel(1, 1, LX, (0.05, 0.2048), long_xticks, [0.05, 0.1, 0.15, 0.2],
           trio(e_start, e_end,
                seasonal([0.2, 0.7], e_cb05_hi, e_cb05_lo),
                seasonal(ph4, e_cb005_hi, e_cb005_lo, e_cb005_hi2, e_cb005_lo2),
                seasonal(ph4, e_obs_hi, e_obs_lo, e_obs_hi2, e_obs_lo2)))
fx, fy = seasonal([0.15, 0.65], f_obs_lo, f_obs_hi)
pf = panel(1, 2, LX, (0, 0.3), long_xticks, [0, 0.05, 0.1, 0.15, 0.2, 0.25, 0.3],
           trio(f_start, f_end,
                seasonal([0.15, 0.65], f_cb05_lo, f_cb05_hi),
                seasonal([0.15, 0.65], f_cb005_lo, f_cb005_hi),
                merge(fx, fy, f_obs_spike_t, f_obs_spike_v)))

pg = panel(2, 0, LX, (0, 150), long_xticks, [0, 50, 100, 150],
           trio(g_start, g_end,
                seasonal(ph_et, g_cb05_hi, g_cb05_mid, g_cb05_lo),
                seasonal(ph_et, g_cb005_hi, g_cb005_mid, g_cb005_lo),
                seasonal(ph_et, g_obs_hi, g_obs_mid, g_obs_lo)))
ph_ = panel(2, 1, LX, (0, 120), long_xticks, [0, 20, 40, 60, 80, 100, 120],
            trio(h_start, h_end,
                 seasonal(ph_et, h_cb05_hi, h_cb05_mid, h_cb05_lo),
                 seasonal(ph_et, h_cb005_hi, h_cb005_mid, h_cb005_lo),
                 seasonal(ph_et, h_obs_hi, h_obs_mid, h_obs_lo)))
pi_ = panel(2, 2, LX, (0, 80), long_xticks, [0, 20, 40, 60, 80],
            trio(i_start, i_end,
                 seasonal([0.3, 0.8], i_cb05_lo, i_cb05_hi),
                 seasonal([0.3, 0.8], i_cb005_lo, i_cb005_hi),
                 seasonal([0.3, 0.8], i_obs_lo, i_obs_hi)))

layout = column(row(pa, pb, pc), row(pd, pe, pf), row(pg, ph_, pi_))
open("out.html", "w").write(file_html(layout, INLINE))
